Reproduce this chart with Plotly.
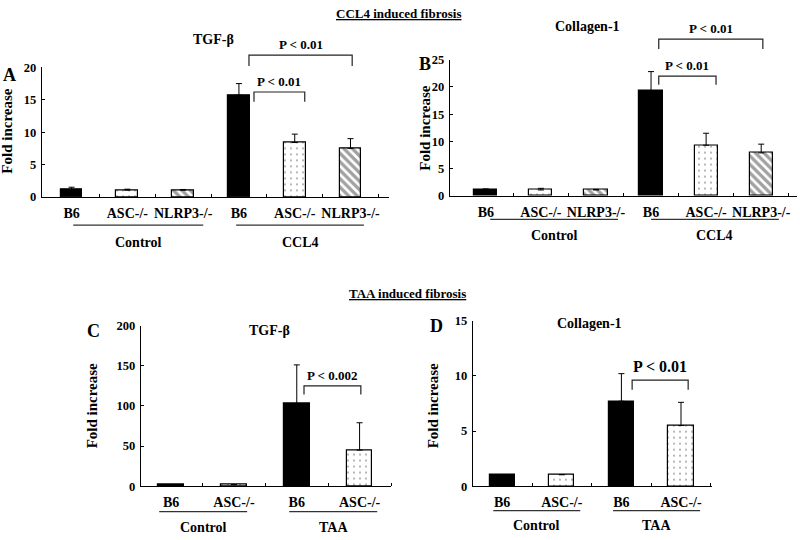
import plotly.graph_objects as go

W, H = 800, 540
FONT = "Liberation Serif"

# ---------------- data ----------------
ccl4_genotypes = ["B6", "ASC-/-", "NLRP3-/-", "B6", "ASC-/-", "NLRP3-/-"]
taa_genotypes = ["B6", "ASC-/-", "B6", "ASC-/-"]

A_tgfb_values = [1.1, 1.05, 1.05, 15.7, 8.4, 7.5]
A_tgfb_errors = [0.4, 0.15, 0.1, 1.8, 1.3, 1.5]

B_col1_values = [1.1, 1.1, 1.1, 19.3, 9.3, 7.9]
B_col1_errors = [0.2, 0.3, 0.1, 3.5, 2.2, 1.6]

C_tgfb_values = [2.0, 2.0, 103, 45]
C_tgfb_errors = [0, 0, 48, 34]

D_col1_values = [1.05, 1.05, 7.7, 5.5]
D_col1_errors = [0, 0, 2.5, 2.1]

ccl4_groups = ["Control", "CCL4"]
taa_groups = ["Control", "TAA"]

# ---------------- styles ----------------
geno_style = {
    "B6": dict(color="black", shape=""),
    "ASC-/-": dict(color="white", shape="."),
    "NLRP3-/-": dict(color="white", shape="\\"),
}

# panel geometry in pixels: axis left, axis right, axis bottom, axis top
panels = {
    "A": dict(l=42, r=389, b=195, t=62, xr=(-0.53, 5.69), ymax=20, dtick=5, cats=ccl4_genotypes,
              vals=A_tgfb_values, errs=A_tgfb_errors, bw=0.39,
              letter=(9, 70), title="TGF-β", title_xy=(213, 33), ytitle_xy=(7, 128),
              groups=ccl4_groups, gspans=[(0.03, 2.36), (2.95, 5.24)], gdy=29, gl=18,
              brackets=[(3.18, 5.03, 21.9, 20.2, "P < 0.01", 13),
                        (3.27, 4.18, 16.2, 14.7, "P < 0.01", 13)]),
    "B": dict(l=450, r=797, b=194, t=54, xr=(-0.65, 5.65), ymax=25, dtick=5, cats=ccl4_genotypes,
              vals=B_col1_values, errs=B_col1_errors, bw=0.42,
              letter=(425, 59), title="Collagen-1", title_xy=(587, 20), ytitle_xy=(425, 125),
              groups=ccl4_groups, gspans=[(0.08, 2.40), (3.0, 5.32)], gdy=24, gl=17,
              brackets=[(3.14, 5.03, 28.75, 26.96, "P < 0.01", 13),
                        (3.14, 4.18, 21.96, 20.4, "P < 0.01", 13)]),
    "C": dict(l=141, r=391, b=492, t=327, xr=(-0.48, 3.5), ymax=200, dtick=50, cats=taa_genotypes,
              vals=C_tgfb_values, errs=C_tgfb_errors, bw=0.41,
              letter=(93, 333), title="TGF-β", title_xy=(269, 332), ytitle_xy=(92, 410),
              groups=taa_groups, gspans=[(-0.19, 1.21), (1.88, 3.28)], gdy=26, gl=16,
              brackets=[(2.115, 3.02, 124.8, 114.3, "P < 0.002", 13)]),
    "D": dict(l=473, r=712, b=492, t=322, xr=(-0.49, 3.52), ymax=15, dtick=5, cats=taa_genotypes,
              vals=D_col1_values, errs=D_col1_errors, bw=0.42,
              letter=(436, 328), title="Collagen-1", title_xy=(589, 325), ytitle_xy=(433, 410),
              groups=taa_groups, gspans=[(-0.15, 1.31), (1.86, 3.32)], gdy=25, gl=15,
              brackets=[(2.18, 3.12, 9.62, 8.74, "P < 0.01", 16)]),
}


def px(x):
    return x / W


def py(y):
    return 1 - y / H


def note(x, y, text, size, **kw):
    d = dict(x=px(x), y=py(y), xref="paper", yref="paper", text=text, showarrow=False,
             xanchor="center", yanchor="middle",
             font=dict(family=FONT, size=size, color="black", weight="bold"))
    d.update(kw)
    return d


fig = go.Figure()
shapes = []
annotations = []

for i, (key, p) in enumerate(panels.items(), start=1):
    n = len(p["cats"])
    xa = "x" if i == 1 else f"x{i}"
    ya = "y" if i == 1 else f"y{i}"
    colors = [geno_style[c]["color"] for c in p["cats"]]
    shapes_pat = [geno_style[c]["shape"] for c in p["cats"]]
    fig.add_trace(go.Bar(
        x=list(range(n)), y=p["vals"], width=p["bw"],
        xaxis=xa, yaxis=ya, showlegend=False, hoverinfo="skip",
        marker=dict(color=colors, line=dict(color="black", width=1.2),
                    pattern=dict(shape=shapes_pat, fgcolor="black", bgcolor="white",
                                 size=[6 if s == "." else 6 for s in shapes_pat],
                                 solidity=[0.09 if s == "." else 0.55 for s in shapes_pat])),
        error_y=dict(type="data", array=p["errs"], arrayminus=[0] * n, symmetric=False,
                     color="black", thickness=1, width=3),
    ))
    axn = "" if i == 1 else str(i)
    fig.layout["xaxis" + axn] = dict(
        domain=[px(p["l"]), px(p["r"])], anchor=ya, range=list(p["xr"]),
        tickmode="array", tickvals=list(range(n)), ticktext=p["cats"],
        ticks="", showline=True, linecolor="black", linewidth=1.3,
        showgrid=False, zeroline=False, ticklabelstandoff=3, fixedrange=True,
        tickfont=dict(family=FONT, size=14, color="black", weight="bold"),
        minor=dict(tickmode="array", tickvals=[k + 0.5 for k in range(n)],
                   ticks="inside", ticklen=3, tickcolor="black", showgrid=False),
    )
    fig.layout["yaxis" + axn] = dict(
        domain=[py(p["b"]), py(p["t"])], anchor=xa, range=[0, p["ymax"]],
        dtick=p["dtick"], tick0=0, ticks="inside", ticklen=3, tickcolor="black",
        showline=True, linecolor="black", linewidth=1.3, showgrid=False, zeroline=False,
        fixedrange=True, ticklabelstandoff=2,
        tickfont=dict(family=FONT, size=12.5, color="black", weight="bold"),
    )

    # data -> pixel helpers
    x_lo, x_hi = p["xr"]
    sx = (p["r"] - p["l"]) / (x_hi - x_lo)
    sc = (p["b"] - p["t"]) / p["ymax"]

    def fx(v, p=p, sx=sx, x_lo=x_lo):
        return p["l"] + (v - x_lo) * sx

    def fy(v, p=p, sc=sc):
        return p["b"] - v * sc

    # panel letter, title, y-title
    annotations.append(note(p["letter"][0], p["letter"][1], key, 18))
    annotations.append(note(p["title_xy"][0], p["title_xy"][1], p["title"], 14))
    annotations.append(note(p["ytitle_xy"][0], p["ytitle_xy"][1], "Fold increase", 15, textangle=-90))

    # group lines and labels
    gy = p["b"] + p["gdy"]
    for g, (s0, s1) in zip(p["groups"], p["gspans"]):
        x0, x1 = fx(s0), fx(s1)
        shapes.append(dict(type="line", xref="paper", yref="paper",
                           x0=px(x0), x1=px(x1), y0=py(gy), y1=py(gy),
                           line=dict(color="#333", width=1.3)))
        annotations.append(note((x0 + x1) / 2, gy + p["gl"], g, 14))

    # significance brackets
    for (b0, b1, ytop, ydrop, lab, fs) in p["brackets"]:
        X0, X1, YT, YD = fx(b0), fx(b1), fy(ytop), fy(ydrop)
        path = f"M {px(X0)} {py(YD)} L {px(X0)} {py(YT)} L {px(X1)} {py(YT)} L {px(X1)} {py(YD)}"
        shapes.append(dict(type="path", xref="paper", yref="paper", path=path,
                           line=dict(color="#222", width=1.2)))
        annotations.append(note((X0 + X1) / 2, YT - (14 if fs > 13 else 11), lab, fs))

# section headings
annotations.append(note(398, 7, "<u>CCL4 induced fibrosis</u>", 13))
annotations.append(note(407, 294, "<u>TAA induced fibrosis</u>", 13))

fig.update_layout(
    width=W, height=H, autosize=False,
    margin=dict(l=0, r=0, t=0, b=0),
    paper_bgcolor="white", plot_bgcolor="white",
    shapes=shapes, annotations=annotations, bargap=0,
    font=dict(family=FONT, color="black"),
    hovermode=False,
)

fig.write_html("out.html", config={"displayModeBar": False},
               post_script="document.body.style.margin='0';document.body.style.overflow='hidden';")
